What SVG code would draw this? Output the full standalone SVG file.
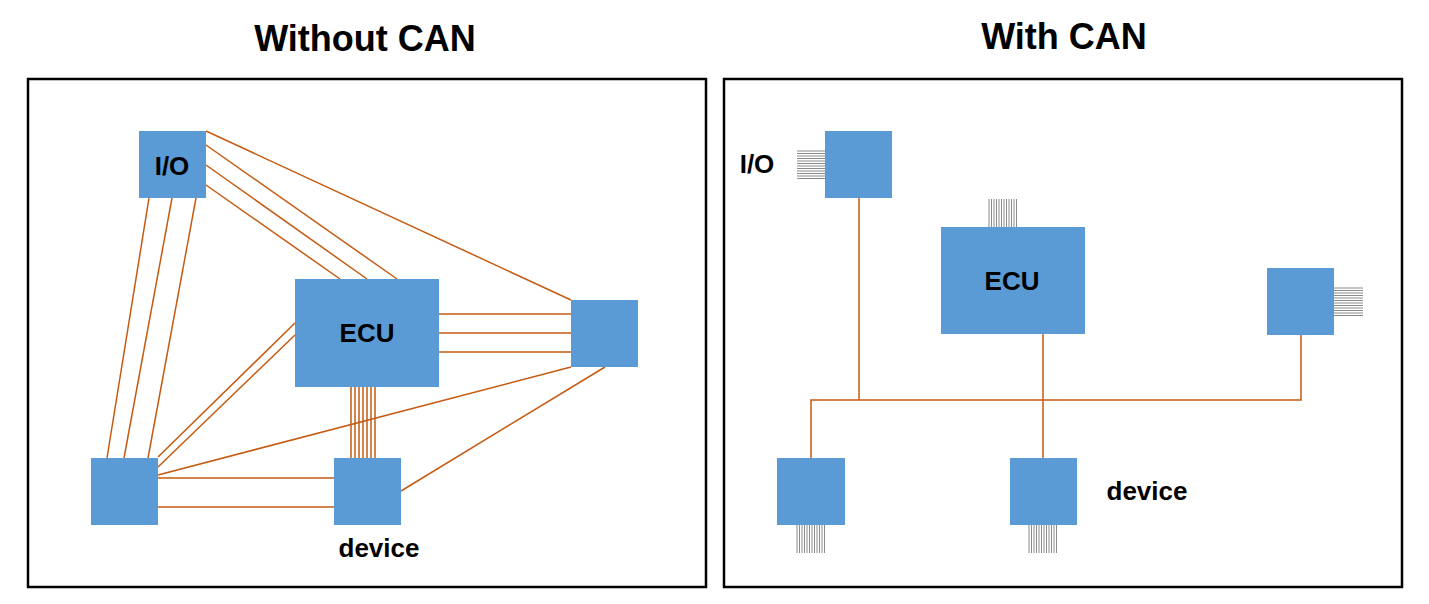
<svg xmlns="http://www.w3.org/2000/svg" width="1429" height="604" viewBox="0 0 1429 604">
<style>
.frame{fill:none;stroke:#000;stroke-width:2.5}
.node{fill:#5B9BD5}
.w{stroke:#C55A11;stroke-width:1.5;fill:none}
.pin{stroke:#8a8a8a;stroke-width:1}
.t{font-family:"Liberation Sans",Arial,sans-serif;font-weight:bold;fill:#000;text-anchor:middle}
.title{font-size:36px}
.lbl{font-size:26px}
</style>
<rect width="1429" height="604" fill="#fff"/>
<text class="t title" x="365" y="51">Without CAN</text>
<text class="t title" x="1064" y="49">With CAN</text>
<rect class="frame" x="28" y="79" width="678" height="508"/>
<rect class="frame" x="724" y="79" width="678" height="508"/>

<g id="connectors-left">
<line class="w" x1="149" y1="198" x2="107" y2="458"/>
<line class="w" x1="172" y1="198" x2="124" y2="458"/>
<line class="w" x1="196" y1="198" x2="148" y2="458"/>
<line class="w" x1="206" y1="131" x2="571" y2="300"/>
<line class="w" x1="206" y1="145" x2="397" y2="279"/>
<line class="w" x1="206" y1="165" x2="367" y2="279"/>
<line class="w" x1="206" y1="185" x2="340" y2="279"/>
<line class="w" x1="439" y1="314" x2="571" y2="314"/>
<line class="w" x1="439" y1="333" x2="571" y2="333"/>
<line class="w" x1="439" y1="352" x2="571" y2="352"/>
<line class="w" x1="158" y1="457" x2="295" y2="323"/>
<line class="w" x1="158" y1="467" x2="295" y2="335"/>
<line class="w" x1="158" y1="475" x2="571" y2="367"/>
<line class="w" x1="158" y1="478" x2="334" y2="478"/>
<line class="w" x1="158" y1="507" x2="334" y2="507"/>
<line class="w" x1="401" y1="491" x2="605" y2="367"/>
<line class="w" x1="351" y1="387" x2="351" y2="458"/>
<line class="w" x1="355" y1="387" x2="355" y2="458"/>
<line class="w" x1="359" y1="387" x2="359" y2="458"/>
<line class="w" x1="363" y1="387" x2="363" y2="458"/>
<line class="w" x1="367" y1="387" x2="367" y2="458"/>
<line class="w" x1="371" y1="387" x2="371" y2="458"/>
<line class="w" x1="375" y1="387" x2="375" y2="458"/>
</g>

<g id="connectors-right">
<line class="w" x1="859" y1="198" x2="859" y2="400"/>
<line class="w" x1="1043" y1="334" x2="1043" y2="458"/>
<polyline class="w" points="811,458 811,400 1301,400 1301,334"/>
</g>

<g id="L-io"><rect class="node" x="139" y="131" width="67" height="67"/><text class="t lbl" x="172" y="175">I/O</text></g>
<g id="L-ecu"><rect class="node" x="295" y="279" width="144" height="108"/><text class="t lbl" x="367" y="342">ECU</text></g>
<g id="L-right"><rect class="node" x="571" y="300" width="67" height="67"/></g>
<g id="L-bottomleft"><rect class="node" x="91" y="458" width="67" height="67"/></g>
<g id="L-device"><rect class="node" x="334" y="458" width="67" height="67"/><text class="t lbl" x="379" y="557">device</text></g>

<g id="R-io">
<g class="pin">
<line x1="797" y1="151" x2="825" y2="151"/><line x1="797" y1="153.5" x2="825" y2="153.5"/><line x1="797" y1="156" x2="825" y2="156"/><line x1="797" y1="158.5" x2="825" y2="158.5"/><line x1="797" y1="161" x2="825" y2="161"/><line x1="797" y1="163.5" x2="825" y2="163.5"/><line x1="797" y1="166" x2="825" y2="166"/><line x1="797" y1="168.5" x2="825" y2="168.5"/><line x1="797" y1="171" x2="825" y2="171"/><line x1="797" y1="173.5" x2="825" y2="173.5"/><line x1="797" y1="176" x2="825" y2="176"/><line x1="797" y1="178.5" x2="825" y2="178.5"/>
</g>
<rect class="node" x="825" y="131" width="67" height="67"/>
<text class="t lbl" x="757" y="173">I/O</text>
</g>
<g id="R-ecu">
<g class="pin">
<line x1="989" y1="199" x2="989" y2="227"/><line x1="991.5" y1="199" x2="991.5" y2="227"/><line x1="994" y1="199" x2="994" y2="227"/><line x1="996.5" y1="199" x2="996.5" y2="227"/><line x1="999" y1="199" x2="999" y2="227"/><line x1="1001.5" y1="199" x2="1001.5" y2="227"/><line x1="1004" y1="199" x2="1004" y2="227"/><line x1="1006.5" y1="199" x2="1006.5" y2="227"/><line x1="1009" y1="199" x2="1009" y2="227"/><line x1="1011.5" y1="199" x2="1011.5" y2="227"/><line x1="1014" y1="199" x2="1014" y2="227"/><line x1="1016.5" y1="199" x2="1016.5" y2="227"/>
</g>
<rect class="node" x="941" y="227" width="144" height="107"/>
<text class="t lbl" x="1012" y="290">ECU</text>
</g>
<g id="R-right">
<g class="pin">
<line x1="1334" y1="288" x2="1363" y2="288"/><line x1="1334" y1="290.5" x2="1363" y2="290.5"/><line x1="1334" y1="293" x2="1363" y2="293"/><line x1="1334" y1="295.5" x2="1363" y2="295.5"/><line x1="1334" y1="298" x2="1363" y2="298"/><line x1="1334" y1="300.5" x2="1363" y2="300.5"/><line x1="1334" y1="303" x2="1363" y2="303"/><line x1="1334" y1="305.5" x2="1363" y2="305.5"/><line x1="1334" y1="308" x2="1363" y2="308"/><line x1="1334" y1="310.5" x2="1363" y2="310.5"/><line x1="1334" y1="313" x2="1363" y2="313"/><line x1="1334" y1="315.5" x2="1363" y2="315.5"/>
</g>
<rect class="node" x="1267" y="268" width="67" height="67"/>
</g>
<g id="R-bottomleft">
<g class="pin">
<line x1="797" y1="525" x2="797" y2="553"/><line x1="799.5" y1="525" x2="799.5" y2="553"/><line x1="802" y1="525" x2="802" y2="553"/><line x1="804.5" y1="525" x2="804.5" y2="553"/><line x1="807" y1="525" x2="807" y2="553"/><line x1="809.5" y1="525" x2="809.5" y2="553"/><line x1="812" y1="525" x2="812" y2="553"/><line x1="814.5" y1="525" x2="814.5" y2="553"/><line x1="817" y1="525" x2="817" y2="553"/><line x1="819.5" y1="525" x2="819.5" y2="553"/><line x1="822" y1="525" x2="822" y2="553"/><line x1="824.5" y1="525" x2="824.5" y2="553"/>
</g>
<rect class="node" x="777" y="458" width="68" height="67"/>
</g>
<g id="R-device">
<g class="pin">
<line x1="1029" y1="525" x2="1029" y2="553"/><line x1="1031.5" y1="525" x2="1031.5" y2="553"/><line x1="1034" y1="525" x2="1034" y2="553"/><line x1="1036.5" y1="525" x2="1036.5" y2="553"/><line x1="1039" y1="525" x2="1039" y2="553"/><line x1="1041.5" y1="525" x2="1041.5" y2="553"/><line x1="1044" y1="525" x2="1044" y2="553"/><line x1="1046.5" y1="525" x2="1046.5" y2="553"/><line x1="1049" y1="525" x2="1049" y2="553"/><line x1="1051.5" y1="525" x2="1051.5" y2="553"/><line x1="1054" y1="525" x2="1054" y2="553"/><line x1="1056.5" y1="525" x2="1056.5" y2="553"/>
</g>
<rect class="node" x="1010" y="458" width="67" height="67"/>
<text class="t lbl" x="1147" y="500">device</text>
</g>
</svg>
